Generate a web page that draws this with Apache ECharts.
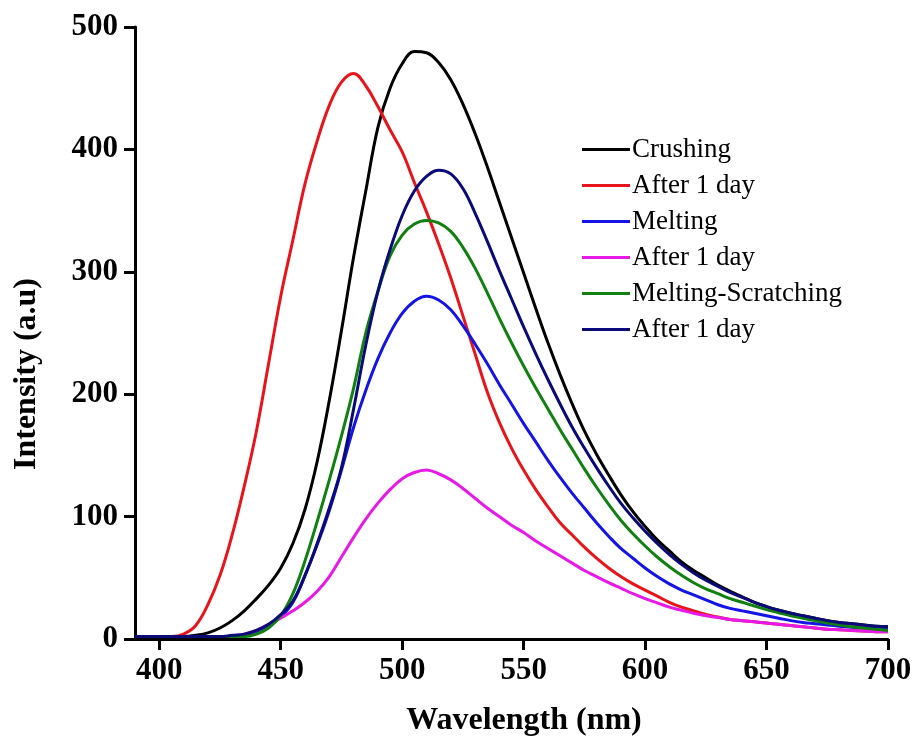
<!DOCTYPE html>
<html>
<head>
<meta charset="utf-8">
<script src="https://cdn.jsdelivr.net/npm/echarts@6/dist/echarts.min.js"></script>
<style>
html,body{margin:0;padding:0;background:#fff;}
#chart{width:916px;height:738px;}
</style>
</head>
<body>
<div id="chart"></div>
<script>
// ---- data ----
const wavelength = [390,395,400,405,410,415,420,425,430,435,440,445,450,455,460,465,470,475,480,485,490,495,500,505,510,515,520,525,530,535,540,545,550,555,560,565,570,575,580,585,590,595,600,605,610,615,620,625,630,635,640,645,650,655,660,665,670,675,680,685,690,695,700];

const seriesNames = ["Crushing","After 1 day","Melting","After 1 day","Melting-Scratching","After 1 day"];

const crushing = [2,2,2,2,2,3,5,9,15,23,33,44,58,78,106,145,195,252,312,366,418,450,470,480,479,471,457,437,413,386,357,328,299,270,242,216,192,170,151,134,118,104,92,81,72,63,56,50,44,39,34.5,30,26.5,23.5,21,19,17,15,13.5,12.5,11.5,10.5,10];

const crushingDay1 = [2,2,2,2,4,11,28,52,85,125,170,225,280,326,372,407,436,455,462,452,435,416,398,373,349,323,295,264,233,202,177,156,138,122,108,95,85,75,66,58,51,45,40,35,30,26,23,20,18,16,15,14,13,12,11,10,9,8,7.5,7,6.5,6,6];

const melting = [2,2,2,2,2,2,2,2,2,2,6,11,18,30,52,77,105,138,173,203,229,250,266,276,280,277,269,256,241,225,208,192,176,161,146,132,119,107,95,84,74,66,58,51,45,40,36,32,28,25,23,21,19,17,15,13.5,12.5,11.5,10.5,9.5,9,8.5,8];

const meltingDay1 = [2,2,2,2,2,2,2,2,2,4,7,12,17,23,30,39,51,67,83,98,111,122,131,136,138,135,130,123,115,107,100,93,87,80,74,68,62,56,51,46,41.5,37,33,29.5,26,23.5,21,19,17.5,16,15,14,13,12,11,10,9,8,7.5,7,6.5,6,6];

const scratching = [2,2,2,2,2,2,2,2,2,2,4,9,19,37,64,96,130,166,205,250,284,313,330,339,342,340,333,320,303,283,262,242,223,205,188,171,155,139,124,110,97,86,76,67,59,52,46,41,37,33,30,27,24,21.5,19,17,15,13,11.5,10,9,8,7];

const scratchingDay1 = [2,2,2,2,2,2,2,2,3,4,7,12,20,31,52,78,107,140,188,240,284,318,346,366,378,383,380,368,348,325,301,278,255,233,212,192,173,156,140,125,111,99,88,78,69,61,54,48,43,38,34,30,26.5,23.5,21,19,17,15,13.5,12.5,11.5,10.5,10];

const xTicks = [400,450,500,550,600,650,700];
const yTicks = [0,100,200,300,400,500];
const colors = ["#000000","#e8141a","#1414e6","#e619e6","#108010","#0a0a78"];

// ---- chart ----
const all = [crushing, crushingDay1, melting, meltingDay1, scratching, scratchingDay1];
const font = "Liberation Serif";
const chart = echarts.init(document.getElementById('chart'));
chart.setOption({
  animation: false,
  backgroundColor: '#ffffff',
  grid: {left: 135, right: 28, top: 27, bottom: 99, containLabel: false, outerBoundsMode: 'none'},
  legend: {
    orient: 'vertical', left: 577, top: 131,
    itemWidth: 48, itemHeight: 3, itemGap: 9,
    icon: 'rect',
    textStyle: {fontFamily: font, fontSize: 27, color: '#000', lineHeight: 27, padding: [0, 0, 0, -3]},
    data: seriesNames.map((n, i) => ({name: n + '\u200b'.repeat(i), icon: 'rect'}))
  },
  xAxis: {
    type: 'value', min: 390, max: 700,
    axisLine: {show: true, onZero: false, lineStyle: {color: '#000', width: 3}},
    axisTick: {show: true, length: 11, lineStyle: {color: '#000', width: 3}, customValues: xTicks},
    axisLabel: {customValues: xTicks, margin: 16, fontFamily: font, fontWeight: 'bold', fontSize: 31, color: '#000'},
    splitLine: {show: false},
    name: 'Wavelength (nm)', nameLocation: 'middle', nameGap: 66,
    nameTextStyle: {fontFamily: font, fontWeight: 'bold', fontSize: 32, color: '#000', padding: [0, 0, 0, 25]}
  },
  yAxis: {
    type: 'value', min: 0, max: 500, interval: 100,
    axisLine: {show: true, lineStyle: {color: '#000', width: 3}},
    axisTick: {show: true, length: 11, lineStyle: {color: '#000', width: 3}},
    axisLabel: {margin: 17, fontFamily: font, fontWeight: 'bold', fontSize: 31, color: '#000'},
    splitLine: {show: false}
  },
  graphic: [{
    type: 'text', x: 27, y: 374, rotation: Math.PI / 2,
    style: {text: 'Intensity (a.u)', fontFamily: font, fontWeight: 'bold', fontSize: 32, fill: '#000', align: 'center', verticalAlign: 'middle'}
  }],
  series: all.map((arr, i) => ({
    name: seriesNames[i] + '\u200b'.repeat(i),
    type: 'line', smooth: 0.4, symbol: 'none',
    lineStyle: {color: colors[i], width: 3},
    itemStyle: {color: colors[i]},
    data: wavelength.map((w, k) => [w, arr[k]])
  }))
});
</script>
</body>
</html>
